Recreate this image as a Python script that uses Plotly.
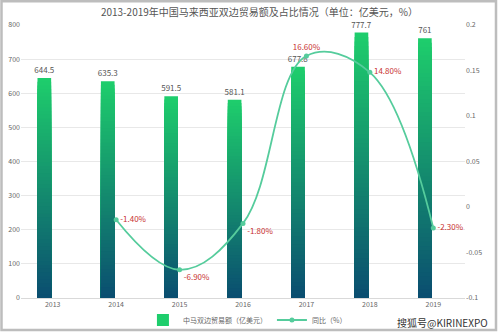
import plotly.graph_objects as go

years = ["2013", "2014", "2015", "2016", "2017", "2018", "2019"]
trade = [644.5, 635.3, 591.5, 581.1, 677.8, 777.7, 761]
yoy_pct = [None, -1.4, -6.9, -1.8, 16.6, 14.8, -2.3]
yoy_text_pos = ["middle right", "middle right", "bottom right", "bottom right",
                "top center", "middle right", "middle right"]
left_ticks = [0, 100, 200, 300, 400, 500, 600, 700, 800]
right_ticks = [-0.1, -0.05, 0, 0.05, 0.1, 0.15, 0.2]
right_ticktext = ["-0.1", "-0.05", "0", "0.05", "0.1", "0.15", "0.2"]

title = "2013-2019年中国马来西亚双边贸易额及占比情况（单位：亿美元，%）"
bar_name = "中马双边贸易额（亿美元）"
line_name = "同比（%）"
watermark = "搜狐号@KIRINEXPO"

FONT = "Noto Sans CJK SC, Noto Sans, sans-serif"
top_rgb = (30, 205, 108)
bot_rgb = (10, 76, 112)
N = 60

fig = go.Figure()

# Gradient bars: nested bars from tallest (bright top colour) to shortest (dark)
for k in range(N):
    frac = 1 - k / N  # height fraction of this layer
    c = tuple(round(bot_rgb[i] + (top_rgb[i] - bot_rgb[i]) * frac) for i in range(3))
    color = "rgb(%d,%d,%d)" % c
    fig.add_trace(go.Bar(
        x=years,
        y=[v * frac for v in trade],
        width=0.215, offset=-0.24,
        marker=dict(color=color, line=dict(width=0)),
        name=bar_name,
        showlegend=(k == 0),
        legendrank=1,
        text=[str(v) for v in trade] if k == 0 else None,
        textposition="outside" if k == 0 else "none",
        constraintext="none",
        textfont=dict(size=8, color="#555", family=FONT),
        cliponaxis=False,
        hoverinfo="skip",
    ))

fig.add_trace(go.Scatter(
    x=years,
    y=[v / 100 if v is not None else None for v in yoy_pct],
    yaxis="y2",
    mode="lines+markers+text",
    line=dict(color="#55cc9c", width=1.8, shape="spline", smoothing=1.1),
    marker=dict(color="#55cc9c", size=5),
    text=["" if v is None else "%.2f%%" % v for v in yoy_pct],
    textposition=yoy_text_pos,
    textfont=dict(size=8, color="#c8312f", family=FONT),
    name=line_name,
    legendrank=2,
    cliponaxis=False,
))

fig.update_layout(
    width=499, height=332,
    margin=dict(l=21, r=34, t=25, b=34, autoexpand=False),
    paper_bgcolor="white", plot_bgcolor="white",
    barmode="overlay",
    font=dict(family=FONT, size=7, color="#666"),
    title=dict(text=title, x=0.52, xref="container", xanchor="center",
               y=1 - 12 / 332, yref="container", yanchor="middle",
               font=dict(size=10, color="#555", family=FONT)),
    xaxis=dict(type="category", categoryorder="array", categoryarray=years,
               showgrid=False, showline=True, linecolor="#d9d9d9", linewidth=1,
               ticks="", tickfont=dict(size=7, color="#666"), fixedrange=True,
               automargin=False),
    yaxis=dict(range=[0, 800], tickvals=left_ticks, showgrid=True,
               gridcolor="#e8e8e8", gridwidth=1, zeroline=False, showline=False,
               tickfont=dict(size=7, color="#666"), ticks="", automargin=False),
    yaxis2=dict(range=[-0.1, 0.2], overlaying="y", side="right",
                tickvals=right_ticks, ticktext=right_ticktext,
                showgrid=False, zeroline=False, showline=False,
                tickfont=dict(size=7, color="#666"), ticks="", automargin=False),
    legend=dict(orientation="h", x=0.51, xanchor="center",
                yref="container", y=1 - 320 / 332,
                yanchor="middle", font=dict(size=7, color="#666"),
                bgcolor="rgba(0,0,0,0)", itemwidth=30, tracegroupgap=0),
    showlegend=True,
)

# outer frame
fig.add_shape(type="rect", xref="paper", yref="paper",
              x0=(1.5 - 21) / 444, x1=(496 - 21) / 444,
              y0=(298 - 330) / 273, y1=(298 - 1.2) / 273,
              line=dict(color="#bdbdbd", width=2.5), fillcolor="rgba(0,0,0,0)",
              layer="below")

fig.add_annotation(text=watermark, xref="paper", yref="paper",
                   x=(490 - 21) / 444, xanchor="right",
                   y=(298 - 322) / 273, yanchor="middle",
                   showarrow=False, font=dict(size=10, color="#333", family=FONT))

fig.write_html("out.html")
